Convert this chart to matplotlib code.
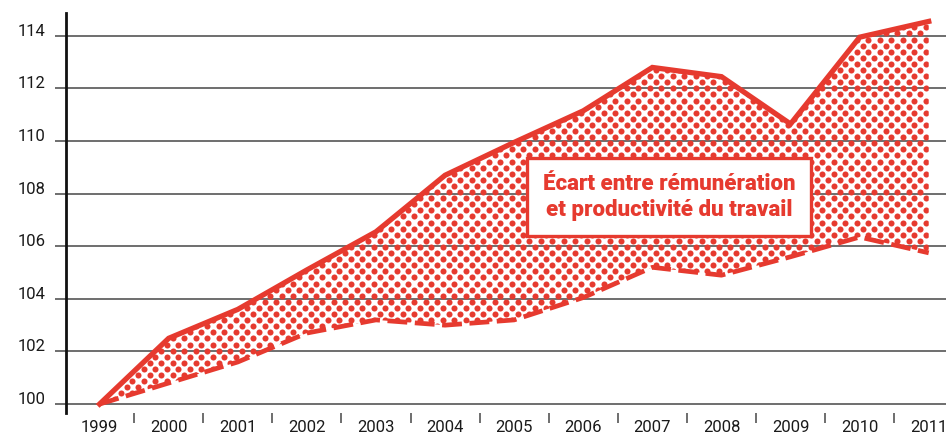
import numpy as np
import matplotlib
matplotlib.use("Agg")
import matplotlib.pyplot as plt
from matplotlib.transforms import IdentityTransform

plt.rcParams['font.family'] = ['Roboto', 'DejaVu Sans']

years = [1999, 2000, 2001, 2002, 2003, 2004, 2005, 2006, 2007, 2008, 2009, 2010, 2011]
remuneration = [100, 102.5, 103.6, 105.1, 106.55, 108.7, 109.95, 111.15, 112.8, 112.45, 110.65, 113.95, 114.55]
productivite = [100, 100.8, 101.6, 102.7, 103.2, 103.0, 103.2, 104.05, 105.2, 104.9, 105.6, 106.35, 105.75]
yticks = [100, 102, 104, 106, 108, 110, 112, 114]
label = "Écart entre rémunération\net productivité du travail"

red = '#e63a2f'
grid_c = '#555555'

W, H = 946, 436
fig = plt.figure(figsize=(W / 100, H / 100), dpi=100)
ax = fig.add_axes([66 / W, 23 / H, 1 - 66 / W, (413 - 13) / H])

# shaded gap, filled with a dot texture
gap = ax.fill_between(years, productivite, remuneration, facecolor='none', edgecolor='none')
gx, gy = np.meshgrid(np.arange(0, W + 12, 11.5), np.arange(0, H + 6, 6.1))
gx = gx + (np.arange(gy.shape[0]) % 2)[:, None] * 5.75
dots = ax.scatter(gx.ravel(), gy.ravel(), s=19, color=red, linewidths=0,
                  transform=IdentityTransform(), zorder=2)
dots.set_clip_path(gap.get_paths()[0], ax.transData)

ax.plot(years, remuneration, color=red, lw=3.8, solid_joinstyle='miter', zorder=3)
ax.plot(years, productivite, color=red, lw=3.4, dashes=(4.2, 1.6), zorder=3)

ax.text(2007.24, 107.87, label, ha='center', va='center', color=red,
        fontsize=16, fontweight='heavy', linespacing=1.2, zorder=5,
        bbox=dict(boxstyle='square,pad=0.7', facecolor='white', edgecolor=red, lw=2.4))

ax.set_xlim(1998.514, 2011.25)
ax.set_ylim(99.66, 114.87)
ax.set_yticks(yticks)
ax.set_xticks(years)
ax.set_xticks([y + 0.5 for y in years[:-1]], minor=True)
ax.tick_params(axis='x', which='major', length=0, pad=5, labelsize=12, colors='#1a1a1a')
ax.tick_params(axis='x', which='minor', length=7, width=1.2, color=grid_c, direction='out')
ax.tick_params(axis='y', length=8, width=1.2, color=grid_c, pad=7, labelsize=12, labelcolor='#1a1a1a')
for t in ax.get_yticklabels():
    t.set_va('baseline')
ax.grid(axis='y', color=grid_c, lw=1.2, zorder=0)
ax.set_axisbelow(True)
for s in ['top', 'right', 'bottom']:
    ax.spines[s].set_visible(False)
ax.spines['left'].set_linewidth(2)
ax.spines['left'].set_color('#111111')

fig.savefig('out.png', dpi=100)
